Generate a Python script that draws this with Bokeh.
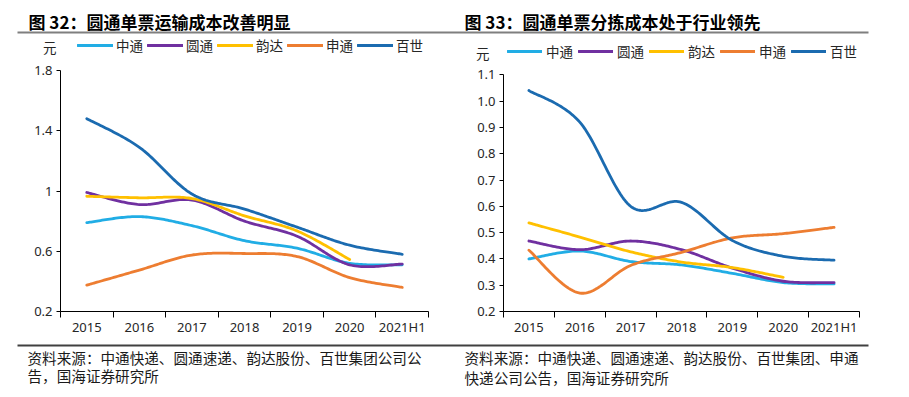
from bokeh.plotting import figure
from bokeh.models import Range1d, FixedTicker, Legend, LegendItem, LinearAxis, BoxAnnotation
from bokeh.core.properties import value
from bokeh.layouts import row, column
from bokeh.embed import file_html
from bokeh.resources import INLINE
import numpy as np

# ---------------- data ----------------
categories = ["2015", "2016", "2017", "2018", "2019", "2020", "2021H1"]
series_names = ["中通", "圆通", "韵达", "申通", "百世"]

# 图32: 单票运输成本 (元)
transport_zto = [0.79, 0.83, 0.77, 0.67, 0.62, 0.52, 0.51]
transport_yto = [0.99, 0.91, 0.94, 0.80, 0.70, 0.51, 0.515]
transport_yunda = [0.965, 0.955, 0.95, 0.835, 0.735, 0.545, None]
transport_sto = [0.375, 0.475, 0.575, 0.585, 0.565, 0.425, 0.36]
transport_best = [1.48, 1.29, 0.98, 0.88, 0.76, 0.64, 0.58]

# 图33: 单票分拣成本 (元)
sorting_zto = [0.40, 0.43, 0.39, 0.377, 0.345, 0.31, 0.305]
sorting_yto = [0.468, 0.435, 0.468, 0.435, 0.365, 0.315, 0.31]
sorting_yunda = [0.537, 0.483, 0.427, 0.388, 0.367, 0.33, None]
sorting_sto = [0.433, 0.27, 0.375, 0.425, 0.48, 0.496, 0.52]
sorting_best = [1.04, 0.92, 0.60, 0.615, 0.47, 0.41, 0.395]

left_yticks = [0.2, 0.6, 1.0, 1.4, 1.8]
left_ytick_labels = ["0.2", "0.6", "1", "1.4", "1.8"]
right_yticks = [0.2, 0.3, 0.4, 0.5, 0.6, 0.7, 0.8, 0.9, 1.0, 1.1]
right_ytick_labels = ["0.2", "0.3", "0.4", "0.5", "0.6", "0.7", "0.8", "0.9", "1.0", "1.1"]

title_left = "图 32：圆通单票运输成本改善明显"
title_right = "图 33：圆通单票分拣成本处于行业领先"
source_left = ["资料来源：中通快递、圆通速递、韵达股份、百世集团公司公", "告，国海证券研究所"]
source_right = ["资料来源：中通快递、圆通速递、韵达股份、百世集团、申通", "快递公司公告，国海证券研究所"]
unit_label = "元"

colors = ["#21ADE5", "#7030A0", "#FFC000", "#ED7D31", "#1B6BB0"]

CJK = "Noto Sans CJK SC"
NUMF = "Noto Sans"
W, H = 909, 397
HEADER_H, FOOTER_H = 34, 54
CHART_H = H - HEADER_H - FOOTER_H
AXIS_BOTTOM_PAGE = 311


def smooth(vals, n=30):
    pts = np.array([(i, v) for i, v in enumerate(vals) if v is not None], float)
    xs, ys = [], []
    m = len(pts)
    for i in range(m - 1):
        p0 = pts[i - 1] if i > 0 else pts[i]
        p1 = pts[i]
        p2 = pts[i + 1]
        p3 = pts[i + 2] if i + 2 < m else pts[i + 1]
        c1 = p1 + (p2 - p0) / 6.0
        c2 = p2 - (p3 - p1) / 6.0
        t = np.linspace(0, 1, n, endpoint=(i == m - 2))[:, None]
        seg = ((1 - t) ** 3) * p1 + 3 * ((1 - t) ** 2) * t * c1 + 3 * (1 - t) * t * t * c2 + (t ** 3) * p2
        xs.extend(seg[:, 0])
        ys.extend(seg[:, 1])
    return xs, ys


def bare_fig(width, y0, height):
    p = figure(width=width, height=height, x_range=Range1d(0, width), y_range=Range1d(y0 + height, y0),
               output_backend="svg", toolbar_location=None, title=None, min_border=0,
               x_axis_type=None, y_axis_type=None)
    p.outline_line_color = None
    p.grid.visible = False
    p.background_fill_color = "white"
    p.border_fill_color = "white"
    return p


# ---------------- header ----------------
header = bare_fig(W, 0, HEADER_H)
header.text(x=[28, 464], y=[21, 21], text=[title_left, title_right],
            text_font=value(CJK), text_font_style="bold", text_font_size=value("17px"),
            text_color="black", text_align="left", text_baseline="middle")
header.add_layout(BoxAnnotation(left=17, right=868, top=31, bottom=33,
                                fill_color="#7f7f7f", fill_alpha=1, line_alpha=0))

# ---------------- footer ----------------
footer = bare_fig(W, H - FOOTER_H, FOOTER_H)
footer.add_layout(BoxAnnotation(left=17, right=868, top=344, bottom=346,
                                fill_color="#404040", fill_alpha=1, line_alpha=0))
footer.text(x=[27, 27, 464, 464], y=[357, 375, 357, 377],
            text=[source_left[0], source_left[1], source_right[0], source_right[1]],
            text_font=value(CJK), text_font_size=value("14.6px"), text_color="#1a1a1a",
            text_align="left", text_baseline="middle")


# ---------------- charts ----------------
def make_chart(x0, width, frame_left, frame_right, y_top_px, y_bot_val, y_top_val, yticks, ylabels, series,
               legend_x, legend_cy, legend_glyph, legend_standoff, legend_spacing, unit_cy, unit_standoff):
    frame_top_page = HEADER_H
    ppu = (AXIS_BOTTOM_PAGE - y_top_px) / (y_top_val - y_bot_val)
    y_end = y_top_val + (y_top_px - frame_top_page) / ppu
    mb_bottom = CHART_H - (AXIS_BOTTOM_PAGE - frame_top_page)
    p = figure(width=width, height=CHART_H, x_range=Range1d(-0.5, 6.5), y_range=Range1d(y_bot_val, y_end),
               output_backend="svg", toolbar_location=None, title=None,
               min_border_left=frame_left - x0, min_border_right=x0 + width - frame_right,
               min_border_top=0, min_border_bottom=mb_bottom)
    p.outline_line_color = None
    p.grid.visible = False
    p.background_fill_color = "white"
    p.border_fill_color = "white"

    xa = p.xaxis[0]
    xa.ticker = FixedTicker(ticks=list(range(len(categories))),
                            minor_ticks=[i - 0.5 for i in range(len(categories) + 1)])
    xa.major_label_overrides = {i: c for i, c in enumerate(categories)}
    xa.major_tick_out = 0
    xa.major_tick_in = 0
    xa.minor_tick_out = 6
    xa.minor_tick_in = 0
    xa.minor_tick_line_color = "black"
    xa.axis_line_color = "black"
    xa.major_label_standoff = 0
    xa.major_label_text_font = NUMF
    xa.major_label_text_font_size = "13px"
    xa.major_label_text_color = "#262626"

    ya = p.yaxis[0]
    ya.ticker = FixedTicker(ticks=yticks, minor_ticks=[])
    ya.major_label_overrides = {t: l for t, l in zip(yticks, ylabels)}
    ya.bounds = (y_bot_val, y_top_val)
    ya.major_tick_out = 4
    ya.major_tick_in = 0
    ya.minor_tick_out = 0
    ya.minor_tick_in = 0
    ya.axis_line_color = "black"
    ya.major_tick_line_color = "black"
    ya.major_label_standoff = 4
    ya.major_label_text_font = NUMF
    ya.major_label_text_font_size = "13px"
    ya.major_label_text_color = "#262626"

    # unit "元": a label-only axis stacked outside the value axis, pulled inward by a negative standoff
    unit_val = round(y_bot_val + (AXIS_BOTTOM_PAGE - unit_cy) / ppu, 4)
    ua = LinearAxis(ticker=FixedTicker(ticks=[unit_val], minor_ticks=[]),
                    major_label_overrides={unit_val: unit_label},
                    axis_line_color=None, major_tick_line_color=None, minor_tick_line_color=None,
                    major_tick_out=0, major_tick_in=0, minor_tick_out=0, minor_tick_in=0,
                    major_label_standoff=unit_standoff, major_label_text_font=CJK,
                    major_label_text_font_size="13.5px", major_label_text_color="#262626")
    p.add_layout(ua, "left")

    items = []
    for name, vals, col in zip(series_names, series, colors):
        xs, ys = smooth(vals)
        r = p.line(xs, ys, line_color=col, line_width=2.8, line_join="round", line_cap="round")
        items.append(LegendItem(label=name, renderers=[r]))

    legend = Legend(items=items, orientation="horizontal",
                    location=(legend_x - frame_left, AXIS_BOTTOM_PAGE - legend_cy - 8),
                    glyph_width=legend_glyph, glyph_height=16, label_height=16, label_standoff=legend_standoff,
                    spacing=legend_spacing, padding=0, margin=0,
                    border_line_alpha=0, background_fill_alpha=0,
                    label_text_font=CJK, label_text_font_size="13.5px", label_text_color="#262626")
    p.add_layout(legend)
    return p


p1 = make_chart(0, 454, 60, 428, 70, 0.2, 1.8, left_yticks, left_ytick_labels,
                [transport_zto, transport_yto, transport_yunda, transport_sto, transport_best],
                legend_x=77, legend_cy=47, legend_glyph=36, legend_standoff=3, legend_spacing=4,
                unit_cy=47, unit_standoff=-25)

p2 = make_chart(454, 455, 503, 859, 74.3, 0.2, 1.1, right_yticks, right_ytick_labels,
                [sorting_zto, sorting_yto, sorting_yunda, sorting_sto, sorting_best],
                legend_x=507, legend_cy=52.5, legend_glyph=35, legend_standoff=4, legend_spacing=5,
                unit_cy=52.5, unit_standoff=-15)

layout = column(header, row(p1, p2, spacing=0), footer, spacing=0)
open("out.html", "w").write(file_html(layout, INLINE))
